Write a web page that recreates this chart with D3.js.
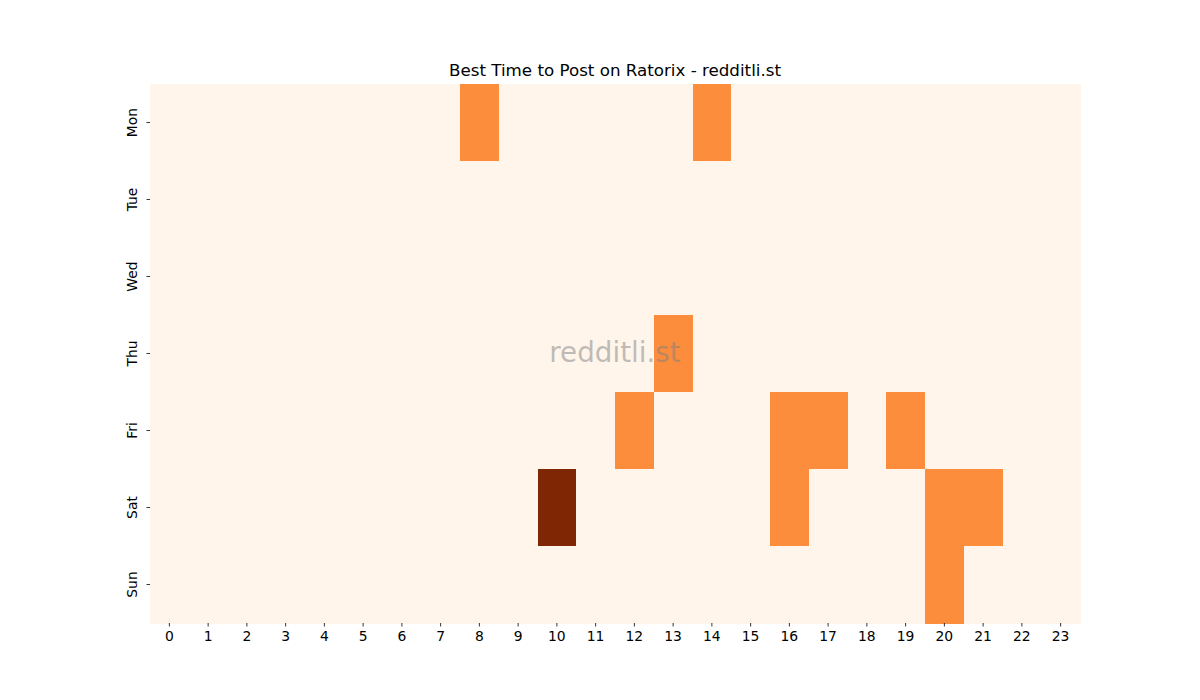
<!DOCTYPE html>
<html><head><meta charset="utf-8">
<script src="https://cdn.jsdelivr.net/npm/d3@7"></script>
<style>body{margin:0;background:#fff;} text{font-family:"DejaVu Sans",sans-serif;}</style>
</head><body>
<svg id="c" width="1200" height="700"></svg>
<script>
const days = ["Mon","Tue","Wed","Thu","Fri","Sat","Sun"];
const hours = [0,1,2,3,4,5,6,7,8,9,10,11,12,13,14,15,16,17,18,19,20,21,22,23];
// non-zero cells: [day, hour, value]
const cells = [
  ["Mon",8,1],["Mon",14,1],
  ["Thu",13,1],
  ["Fri",12,1],["Fri",16,1],["Fri",17,1],["Fri",19,1],
  ["Sat",10,2],["Sat",16,1],["Sat",20,1],["Sat",21,1],
  ["Sun",20,1]
];
const title = "Best Time to Post on Ratorix - redditli.st";
const watermark = "redditli.st";

const svg = d3.select("#c");
const L=150,R=1080,T=84,B=623;
const x = d3.scaleBand().domain(hours).range([L,R]).padding(0);
const y = d3.scaleBand().domain(days).range([T,B]).padding(0);
const vmax = d3.max(cells,d=>d[2]);
const color = v => d3.interpolateOranges(v/vmax);
const lookup = new Map(cells.map(d=>[d[0]+"_"+d[1],d[2]]));
const grid = [];
days.forEach(dy=>hours.forEach(h=>grid.push({dy,h,v:lookup.get(dy+"_"+h)||0})));

svg.append("g").selectAll("rect").data(grid).join("rect")
  .attr("x",d=>x(d.h)).attr("y",d=>y(d.dy))
  .attr("width",x.bandwidth()+0.5).attr("height",y.bandwidth()+0.5)
  .attr("fill",d=>color(d.v)).attr("shape-rendering","crispEdges");

const xa = svg.append("g").attr("transform",`translate(0,${B})`)
  .call(d3.axisBottom(x).tickSize(3.5).tickPadding(5));
xa.select(".domain").remove();
xa.selectAll("text").attr("font-size","13.9px").attr("fill","#000").style("font-family","DejaVu Sans");
xa.selectAll("line").attr("stroke","#000").attr("stroke-width",0.8);

const ya = svg.append("g").attr("transform",`translate(${L},0)`)
  .call(d3.axisLeft(y).tickSize(3.5).tickPadding(5));
ya.select(".domain").remove();
ya.selectAll("line").attr("stroke","#000").attr("stroke-width",0.8);
ya.selectAll("text").attr("font-size","13.9px").attr("fill","#000").style("font-family","DejaVu Sans")
  .attr("text-anchor","middle").attr("dy",null).attr("x",null)
  .attr("transform","translate(-13,0) rotate(-90)").attr("dominant-baseline","auto");

svg.append("text").attr("x",(L+R)/2).attr("y",76).attr("text-anchor","middle")
  .attr("font-size","16.7px").attr("fill","#000").text(title);

svg.append("text").attr("x",(L+R)/2).attr("y",362).attr("text-anchor","middle")
  .attr("font-size","27.8px").attr("fill","#808080").attr("fill-opacity",0.5).text(watermark);
</script>
</body></html>
